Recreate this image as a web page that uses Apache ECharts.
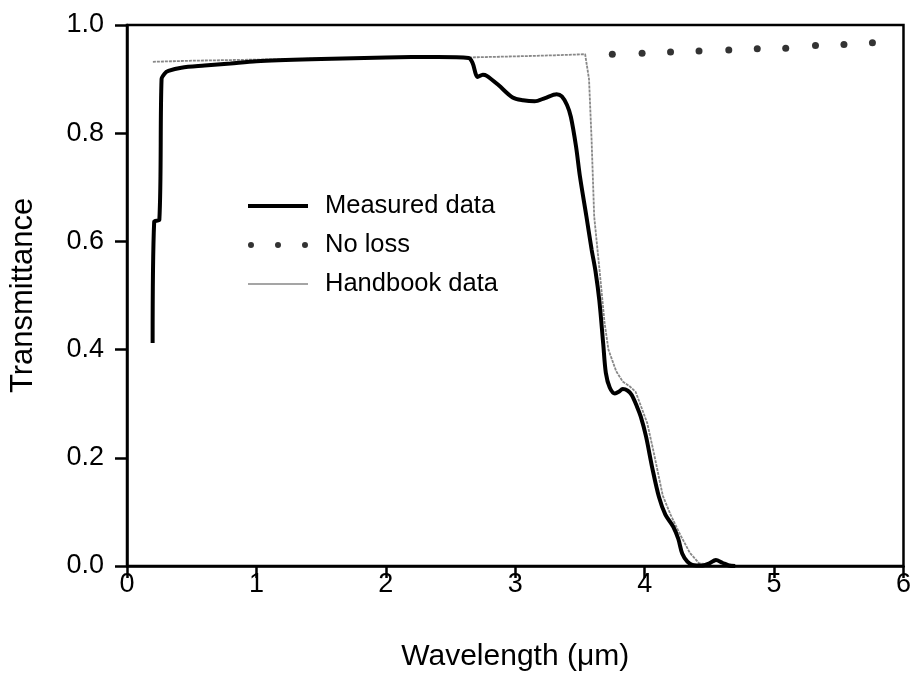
<!DOCTYPE html>
<html>
<head>
<meta charset="utf-8">
<script src="https://cdn.jsdelivr.net/npm/echarts@6/dist/echarts.min.js"></script>
<style>html,body{margin:0;padding:0;background:#fff;}#c{width:914px;height:688px;}</style>
</head>
<body>
<div id="c"></div>
<script>
// Measured data
const measuredX = [0.198,0.21,0.25,0.267,0.29,0.32,0.42,0.6,0.8,1.0,1.5,2.0,2.4,2.64,2.67,2.71,2.75,2.78,2.87,2.98,3.06,3.15,3.23,3.32,3.36,3.40,3.43,3.47,3.50,3.55,3.59,3.62,3.65,3.68,3.70,3.73,3.77,3.80,3.83,3.87,3.90,3.94,3.97,4.01,4.06,4.11,4.16,4.22,4.26,4.29,4.33,4.37,4.45,4.50,4.55,4.60,4.65,4.70];
const measuredY = [0.412,0.636,0.640,0.900,0.910,0.915,0.921,0.925,0.929,0.933,0.937,0.940,0.941,0.939,0.930,0.904,0.908,0.906,0.889,0.866,0.861,0.859,0.865,0.872,0.868,0.852,0.830,0.775,0.720,0.646,0.585,0.545,0.490,0.410,0.357,0.330,0.319,0.322,0.327,0.324,0.316,0.295,0.276,0.240,0.180,0.128,0.095,0.073,0.050,0.023,0.008,0.002,0.001,0.005,0.011,0.006,0.001,0.000];
// No loss
const noLossX = [0.40,0.62,0.85,1.07,1.29,1.52,1.74,1.96,2.19,2.41,2.63,2.86,3.08,3.30,3.53,3.75,3.98,4.20,4.42,4.65,4.87,5.09,5.32,5.54,5.76];
const noLossY = [0.932,0.933,0.934,0.935,0.936,0.937,0.938,0.939,0.940,0.940,0.941,0.942,0.943,0.944,0.945,0.946,0.948,0.950,0.952,0.954,0.956,0.957,0.962,0.964,0.967];
// Handbook data
const handbookX = [0.2,0.5,1.0,1.5,2.0,2.5,2.63,3.0,3.3,3.54,3.555,3.57,3.59,3.61,3.65,3.69,3.72,3.78,3.83,3.88,3.93,3.98,4.02,4.07,4.14,4.20,4.27,4.35,4.42,4.50,4.56,4.62,4.70];
const handbookY = [0.932,0.934,0.936,0.938,0.940,0.941,0.940,0.942,0.944,0.946,0.944,0.900,0.787,0.646,0.550,0.450,0.400,0.360,0.341,0.333,0.322,0.290,0.264,0.210,0.130,0.095,0.060,0.024,0.005,0.003,0.010,0.005,0.000];
const xTicks = [0,1,2,3,4,5,6];
const yTicks = [0.0,0.2,0.4,0.6,0.8,1.0];

const zip = (xs, ys) => xs.map((x, i) => [x, ys[i]]);
const FONT = '"Liberation Sans", Arial, sans-serif';
const dotsIcon = 'path://M0,3a3,3 0 1,0 6,0a3,3 0 1,0 -6,0M27,3a3,3 0 1,0 6,0a3,3 0 1,0 -6,0M54,3a3,3 0 1,0 6,0a3,3 0 1,0 -6,0';
const thickIcon = 'path://M0,0h0.01v0.01h-0.01zM0,6h0.01v-0.01h-0.01zM0,1H60V5H0Z';
const thinIcon = 'path://M0,0h0.01v0.01h-0.01zM0,6h0.01v-0.01h-0.01zM0,2.2H60V3.8H0Z';

const chart = echarts.init(document.getElementById('c'), null, {renderer: 'canvas'});
chart.setOption({
  animation: false,
  backgroundColor: '#fff',
  textStyle: {fontFamily: FONT, color: '#000'},
  grid: {left: 126, right: 9, top: 25, bottom: 122, show: true, borderColor: '#000', borderWidth: 2.5, backgroundColor: 'transparent'},
  legend: {
    orient: 'vertical', left: 243, top: 188,
    itemWidth: 60, itemHeight: 6, itemGap: 13,
    textStyle: {fontSize: 25.5, color: '#000', fontFamily: FONT, padding: [0, 0, 0, 12]},
    data: [
      {name: 'Measured data', icon: thickIcon},
      {name: 'No loss', icon: dotsIcon},
      {name: 'Handbook data', icon: thinIcon}
    ]
  },
  xAxis: {
    type: 'value', min: xTicks[0], max: xTicks[xTicks.length - 1], interval: 1,
    name: 'Wavelength (\u03bcm)', nameLocation: 'middle', nameGap: 76,
    nameTextStyle: {fontSize: 30, color: '#000', fontFamily: FONT},
    axisLine: {lineStyle: {color: '#000', width: 2.5}},
    axisTick: {show: true, inside: false, length: 12, lineStyle: {color: '#000', width: 2.5}},
    axisLabel: {fontSize: 27, color: '#000', margin: 5, fontFamily: FONT},
    splitLine: {show: false}
  },
  yAxis: {
    type: 'value', min: yTicks[0], max: yTicks[yTicks.length - 1], interval: 0.2,
    name: 'Transmittance', nameLocation: 'middle', nameGap: 88, nameRotate: 90,
    nameTextStyle: {fontSize: 31, color: '#000', fontFamily: FONT},
    axisLine: {lineStyle: {color: '#000', width: 2.5}},
    axisTick: {show: true, inside: false, length: 12, lineStyle: {color: '#000', width: 2.5}},
    axisLabel: {fontSize: 27, color: '#000', margin: 23, fontFamily: FONT, formatter: v => v.toFixed(1)},
    splitLine: {show: false}
  },
  series: [
    {
      name: 'No loss', type: 'scatter', z: 2,
      symbol: 'circle', symbolSize: 7,
      itemStyle: {color: '#000'},
      data: zip(noLossX, noLossY).map(p => p[0] < 3.6
        ? {value: p, symbol: 'emptyCircle', symbolSize: 5, itemStyle: {color: '#fff', borderColor: '#777', borderWidth: 1}}
        : {value: p})
    },
    {
      name: 'Handbook data', type: 'line', z: 3, symbol: 'none', smooth: false,
      lineStyle: {color: '#888', width: 1.8, type: [3, 1]},
      itemStyle: {color: '#888'},
      data: zip(handbookX, handbookY)
    },
    {
      name: 'Measured data', type: 'line', z: 4, symbol: 'none', smooth: 0.3,
      lineStyle: {color: '#000', width: 4},
      itemStyle: {color: '#000'},
      data: zip(measuredX, measuredY)
    }
  ]
});
</script>
</body>
</html>
